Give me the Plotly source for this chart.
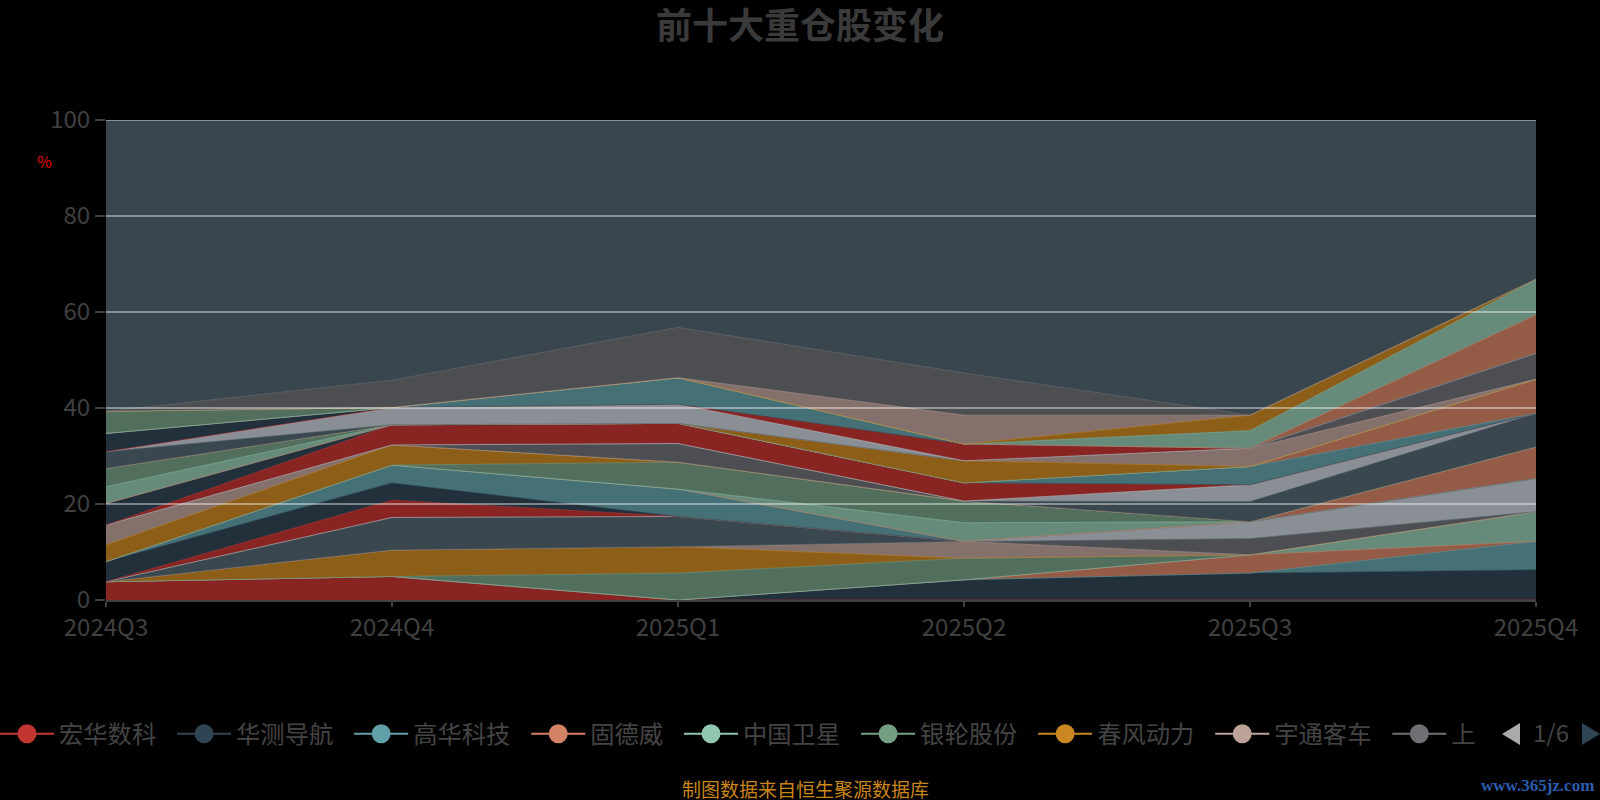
import plotly.graph_objects as go

quarters = ["2024Q3", "2024Q4", "2025Q1", "2025Q2", "2025Q3", "2025Q4"]

stock_names = ["宏华数科", "华测导航", "高华科技", "固德威", "中国卫星", "银轮股份",
               "春风动力", "宇通客车", "上海"] + [f"重仓股{i + 1}" for i in range(9, 42)]
legend_labels = ["宏华数科", "华测导航", "高华科技", "固德威", "中国卫星",
                 "银轮股份", "春风动力", "宇通客车", "上"]

# holding weight (%) of each of the 42 stocks, one list per quarter (stack order)
pct_2024Q3 = [3.8, 0, 0, 0, 0, 0, 0, 0, 0, 0,
              0, 0, 4.2, 0, 0, 0, 0, 3.5, 4.1, 0,
              0, 0, 0, 4.5, 0, 0, 3.5, 3.8, 0, 0,
              0, 3.5, 0, 0, 3.8, 0, 0, 0, 4.6, 0,
              0, 0]
pct_2024Q4 = [4.9, 0, 0, 0, 0, 0, 5.5, 0, 0, 6.8,
              0, 3.6, 3.6, 3.7, 0, 0, 0, 4.2, 0, 0,
              0, 0, 4.2, 0, 0, 0, 0, 0, 0, 0,
              0, 0, 3.6, 0, 0, 0, 0, 0, 0, 0,
              0, 5.7]
pct_2025Q1 = [0, 0, 0, 0, 0, 5.6, 5.5, 0, 0, 6.3,
              0, 0, 0, 5.7, 0, 0, 5.6, 0, 0, 3.9,
              0, 0, 4.2, 0, 0, 0, 0, 0, 0, 0,
              0, 0, 4.0, 0, 0, 5.5, 0, 0, 0, 0,
              0, 10.5]
pct_2025Q2 = [0, 4.2, 0, 0, 0, 4.5, 0, 3.5, 0, 0,
              0, 0, 0, 0, 0, 3.9, 4.5, 0, 0, 0,
              0, 0, 3.8, 0, 0, 0, 0, 0, 4.6, 0,
              0, 0, 0, 3.5, 0, 0, 0, 0, 0, 0,
              6.0, 8.8]
pct_2025Q3 = [0, 5.6, 0, 3.8, 0, 0, 0, 0, 3.4, 0,
              3.5, 0, 0, 0, 0, 0, 0, 0, 0, 0,
              4.2, 3.5, 0, 0, 3.8, 0, 0, 0, 0, 3.8,
              0, 0, 0, 0, 0, 0, 0, 3.7, 0, 3.2,
              0, 0]
pct_2025Q4 = [0, 6.3, 5.9, 0, 6.2, 0, 0, 0, 0, 0,
              6.9, 0, 0, 0, 6.6, 0, 0, 0, 0, 0,
              7.0, 0, 0, 0, 0, 7.1, 0, 0, 0, 0,
              5.4, 0, 0, 0, 0, 0, 8.0, 7.4, 0, 0,
              0, 0]

y_ticks = [0, 20, 40, 60, 80, 100]

palette = ['#c23531', '#2f4554', '#61a0a8', '#d48265', '#91c7ae', '#749f83',
           '#ca8622', '#bda29a', '#6e7074', '#546570', '#c4ccd3']

FONT = "Noto Sans CJK SC"
W, H = 1600, 800
L, R, T, B = 106, 1536, 120, 600


def px2x(px):
    return (px - L) / (R - L)


def py2y(py):
    return (B - py) / (B - T)


def hex_rgb(h):
    h = h.lstrip('#')
    return tuple(int(h[i:i + 2], 16) for i in (0, 2, 4))


def dim(h, a=0.7):
    r, g, b = hex_rgb(h)
    return f"rgb({round(r * a)},{round(g * a)},{round(b * a)})"


def rgba(h, a):
    r, g, b = hex_rgb(h)
    return f"rgba({r},{g},{b},{a})"


by_quarter = [pct_2024Q3, pct_2024Q4, pct_2025Q1, pct_2025Q2, pct_2025Q3, pct_2025Q4]

fig = go.Figure()
for i, name in enumerate(stock_names):
    col = palette[i % len(palette)]
    fig.add_trace(go.Scatter(
        x=quarters, y=[q[i] for q in by_quarter], name=name,
        mode="lines", stackgroup="one",
        line=dict(color=rgba(col, 0.55), width=1),
        fillcolor=dim(col), hoverinfo="skip", showlegend=False))

NB = "\u00a0"
for i, lab in enumerate(legend_labels):
    col = palette[i % len(palette)]
    fig.add_trace(go.Scatter(
        x=[None], y=[None], name=lab + NB * 2, mode="lines+markers",
        line=dict(color=col, width=2),
        marker=dict(color=col, size=16, line=dict(color=col, width=3)),
        hoverinfo="skip", showlegend=True))

shapes = []
for v in y_ticks[1:]:
    shapes.append(dict(type="line", xref="paper", yref="y", x0=0, x1=1, y0=v, y1=v,
                       line=dict(color="rgba(255,255,255,0.42)", width=2), layer="above"))


def tri(points, color):
    d = "M " + " L ".join(f"{px2x(a)},{py2y(b)}" for a, b in points) + " Z"
    return dict(type="path", xref="paper", yref="paper", path=d,
                fillcolor=color, line=dict(width=0), layer="above")


shapes.append(tri([(1502, 734), (1520, 723), (1520, 745)], "#aaaaaa"))
shapes.append(tri([(1600, 734), (1582, 723), (1582, 745)], "#2f4554"))


def note(text, px, py, size, color, family=FONT):
    return dict(text=text, xref="paper", yref="paper", x=px2x(px), y=py2y(py),
                xanchor="center", yanchor="middle", showarrow=False,
                font=dict(size=size, color=color, family=family))


annotations = [
    note("%", 44, 161, 16, "#e00000"),
    note("1/6", 1551, 731, 24, "#444444"),
    note("制图数据来自恒生聚源数据库", 805, 788, 19, "#c8861a"),
    note("<b>www.365jz.com</b>", 1537, 785, 17, "#2a5cad", "Liberation Serif"),
]

fig.update_layout(
    width=W, height=H,
    paper_bgcolor="#000000", plot_bgcolor="rgb(57,70,78)",
    margin=dict(l=L, r=W - R, t=T, b=H - B, autoexpand=False),
    title=dict(text="<b>前十大重仓股变化</b>", x=0.5, xanchor="center",
               y=1 - 26 / H, yanchor="middle",
               font=dict(size=36, color="#3a3a3a", family=FONT)),
    font=dict(family=FONT, color="#444444"),
    xaxis=dict(type="category", range=[0, len(quarters) - 1], showgrid=False,
               showline=True, linecolor="#404040", linewidth=2,
               ticks="outside", ticklen=5, tickwidth=2, tickcolor="#404040",
               tickfont=dict(size=24, color="#404040", family=FONT),
               automargin=False, zeroline=False),
    yaxis=dict(range=[0, 100], tickvals=y_ticks, showgrid=False, zeroline=False,
               showline=False, ticks="outside", ticklen=10, tickwidth=2,
               tickcolor="#404040",
               tickfont=dict(size=24, color="#404040", family=FONT),
               automargin=False),
    legend=dict(orientation="h", x=px2x(-5), xanchor="left", y=py2y(734),
                yanchor="middle", traceorder="normal", itemwidth=54,
                font=dict(size=24.3, color="#444444", family=FONT),
                bgcolor="rgba(0,0,0,0)", borderwidth=0),
    shapes=shapes, annotations=annotations,
    showlegend=True,
)

fig.write_html("out.html", config={"displayModeBar": False},
               post_script="document.body.style.margin='0';")
